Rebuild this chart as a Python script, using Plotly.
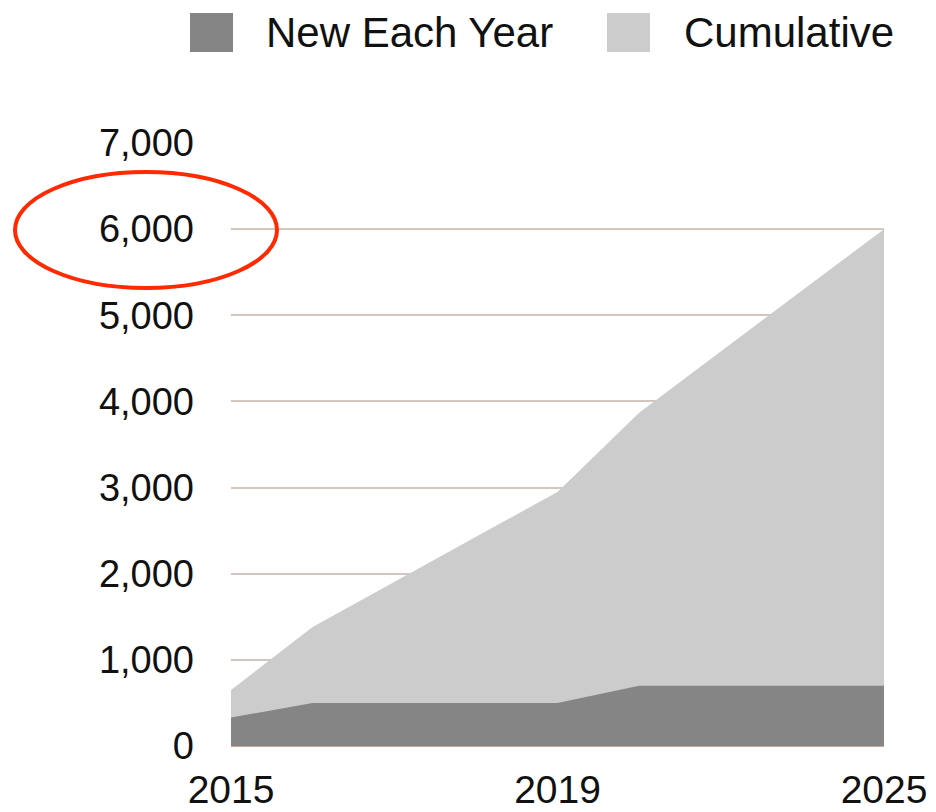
import plotly.graph_objects as go

# Series values on an evenly spaced period scale (slot 0 = 2015, slot 8 = 2025)
period_slot = [0, 1, 4, 5, 8]
new_each_year = [330, 500, 500, 700, 700]
cumulative = [650, 1380, 2950, 3870, 6000]

tick_slots = [0, 4, 8]
tick_labels = ["2015", "2019", "2025"]
y_ticks = [0, 1000, 2000, 3000, 4000, 5000, 6000, 7000]

series_names = ["New Each Year", "Cumulative"]
dark_fill = "#858585"
light_fill = "#cccccc"
grid_color = "#d3c6be"
font_family = "Liberation Sans, Arial, Helvetica, sans-serif"

# Plot area in pixels
W, H = 936, 812
L, R, T, B = 231, 52, 143, 66
pw, ph = W - L - R, H - T - B


def px_x(x):
    return (x - L) / pw


def px_y(y):
    return (H - B - y) / ph


fig = go.Figure()
fig.add_trace(go.Scatter(
    x=period_slot, y=cumulative, name=series_names[1],
    mode="lines", line=dict(width=0, color=light_fill),
    fill="tozeroy", fillcolor=light_fill, showlegend=False,
    hoverinfo="x+y",
))
fig.add_trace(go.Scatter(
    x=period_slot, y=new_each_year, name=series_names[0],
    mode="lines", line=dict(width=0, color=dark_fill),
    fill="tozeroy", fillcolor=dark_fill, showlegend=False,
    hoverinfo="x+y",
))

# Key drawn above the plot with large swatches
shapes = []
annotations = []
for (sx0, sx1, tx), name, color in zip(
    [(190, 233, 264), (607, 650, 682)], series_names, [dark_fill, light_fill]
):
    shapes.append(dict(
        type="rect", xref="paper", yref="paper",
        x0=px_x(sx0), x1=px_x(sx1), y0=px_y(52), y1=px_y(13),
        fillcolor=color, line=dict(width=0),
    ))
    annotations.append(dict(
        xref="paper", yref="paper", x=px_x(tx), y=px_y(33),
        xanchor="left", yanchor="middle", showarrow=False,
        text=name, font=dict(family=font_family, size=42, color="#111111"),
    ))

# Red ring highlighting the 6,000 level
shapes.append(dict(
    type="circle", xref="paper", yref="paper",
    x0=px_x(15), x1=px_x(277), y0=px_y(288), y1=px_y(172),
    line=dict(color="#ff2a00", width=4), fillcolor="rgba(0,0,0,0)",
))

fig.update_layout(
    width=W, height=H,
    margin=dict(l=L, r=R, t=T, b=B, pad=0),
    paper_bgcolor="white", plot_bgcolor="white",
    font=dict(family=font_family, color="#111111"),
    shapes=shapes, annotations=annotations,
    showlegend=False,
    xaxis=dict(
        range=[0, 8], tickmode="array", tickvals=tick_slots, ticktext=tick_labels,
        showgrid=False, zeroline=False, showline=False, automargin=False,
        ticks="", ticklabelstandoff=17,
        tickfont=dict(family=font_family, size=39, color="#111111"),
    ),
    yaxis=dict(
        range=[0, 7000], tickmode="array", tickvals=y_ticks,
        tickformat=",d", showgrid=True, gridcolor=grid_color, gridwidth=1.5,
        zeroline=True, zerolinecolor="#c9a594", zerolinewidth=1.5,
        showline=False, automargin=False, ticks="", ticklabelstandoff=36,
        tickfont=dict(family=font_family, size=38, color="#111111"),
    ),
)

fig.write_html("out.html")
